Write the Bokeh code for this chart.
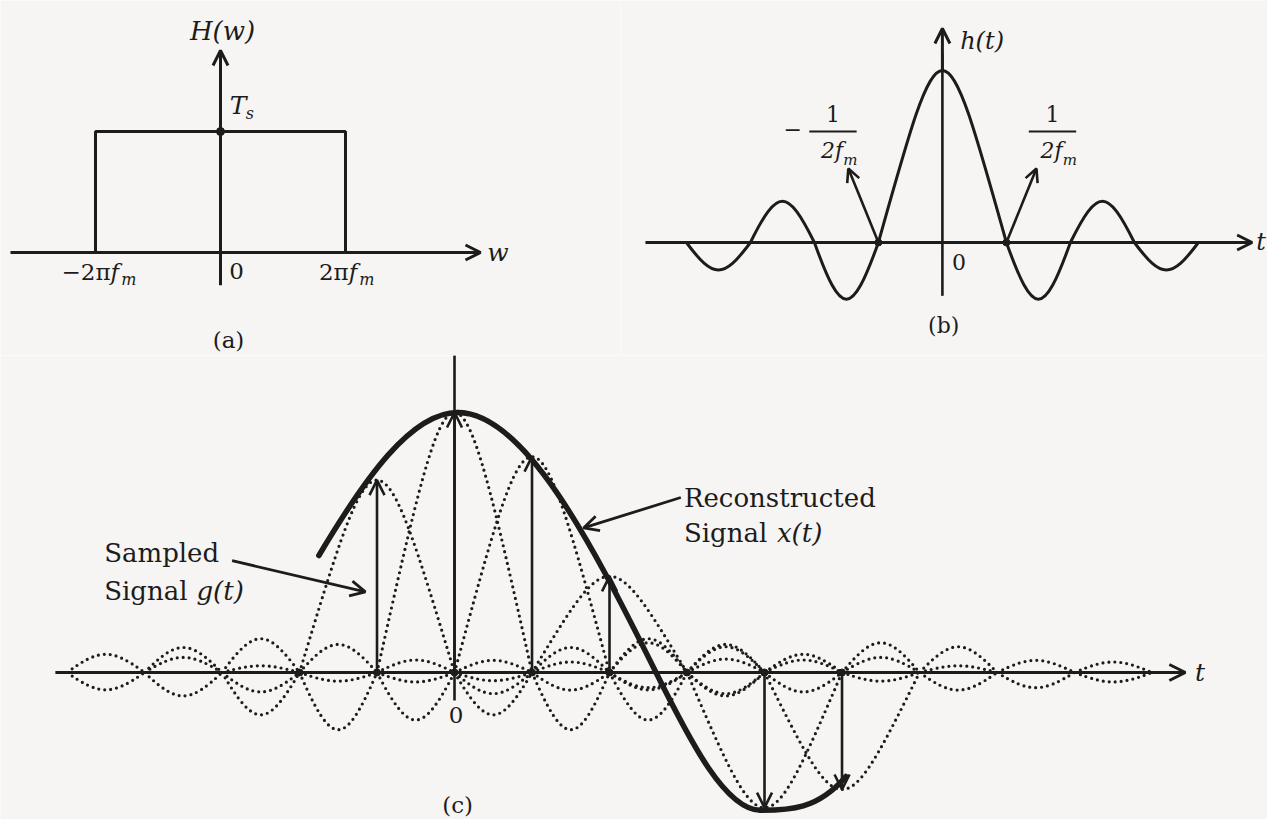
import numpy as np
from bokeh.plotting import figure
from bokeh.models import Range1d, Arrow, OpenHead, ColumnDataSource
from bokeh.layouts import column, row
from bokeh.core.properties import value
from bokeh.embed import file_html
from bokeh.resources import INLINE

PAPER = "#f6f5f3"
INK = "#1c1c1c"
SERIF = value("DejaVu Serif")

# ---------------- data ----------------
# (a) ideal low-pass filter: band edges in units of 2*pi*f_m, pass-band gain T_s
band_edges = [-1.0, 1.0]
passband_gain = 1.0

# (b) impulse response h(t): zero crossings in units of 1/(2 f_m) and the
#     height of the lobe between each pair of neighbouring zeros
h_zeros = [-4.0, -3.0, -2.0, -1.0, 1.0, 2.0, 3.0, 4.0]
h_lobe_heights = [-0.16, 0.24, -0.33, 1.0, -0.33, 0.24, -0.16]

# (c) samples g(nT_s) and the interpolating pulses built on them
sample_n = [-1, 0, 1, 2, 4, 5]
sample_g = [0.74, 1.0, 0.83, 0.37, -0.52, -0.45]
axis_points = [-2, -1, 0, 1, 2, 3, 4, 5]
side_lobe_ratio = [-0.22, 0.13, -0.09, 0.07]
pulse_span = (-5.3, 9.3)

# reconstructed x(t): anchor times, values and slopes along the curve
xt_t = [-1.75, 0.04, 2.6, 3.95, 5.05]
xt_v = [0.45, 1.0, 0.0, -0.53, -0.40]
xt_slope = [0.5, 0.0, -0.6, 0.0, 0.35]


def new_fig(w, h, xr, yr):
    p = figure(width=w, height=h, x_range=Range1d(*xr), y_range=Range1d(*yr),
               output_backend="svg", toolbar_location=None, tools="",
               x_axis_location=None, y_axis_location=None, min_border=0,
               background_fill_color=PAPER, border_fill_color=PAPER,
               outline_line_color=None)
    p.grid.visible = False
    return p


def lobe(x0, x1, amp, k):
    """Cubic Bezier control points for one half-wave between two zeros."""
    w = x1 - x0
    c = 4.0 / 3.0 * amp
    return dict(x0=x0, y0=0.0, x1=x1, y1=0.0,
                cx0=x0 + k * w, cy0=c, cx1=x1 - k * w, cy1=c)


def collect(items):
    keys = ["x0", "y0", "x1", "y1", "cx0", "cy0", "cx1", "cy1"]
    return ColumnDataSource({k: [it[k] for it in items] for k in keys})


def arrows(p, segs, size=13, width=2.4):
    x0, y0, x1, y1 = zip(*segs)
    src = ColumnDataSource(dict(x0=x0, y0=y0, x1=x1, y1=y1))
    p.add_layout(Arrow(end=OpenHead(size=size, line_width=width, line_color=INK),
                       x_start="x0", y_start="y0", x_end="x1", y_end="y1",
                       source=src, line_width=width, line_color=INK))


def label(p, x, y, txt, size, align="center", style="normal"):
    p.text(x=[x], y=[y], text=[txt], text_font=SERIF, text_font_size=f"{size}px",
           text_align=align, text_baseline="middle", text_color=INK,
           text_font_style=style)


# ---------------- (a) H(w) ----------------
pa = new_fig(620, 355, (-1.76, 3.2), (-0.851, 2.083))
lo, hi = band_edges
pa.multi_line(xs=[[lo, lo, hi, hi]], ys=[[0, passband_gain, passband_gain, 0]],
              line_color=INK, line_width=3)
pa.segment(x0=[0], y0=[-0.27], x1=[0], y1=[1.55], line_color=INK, line_width=3)
arrows(pa, [(0, 1.4, 0, 1.67), (-1.68, 0, 2.08, 0)], size=15, width=3)
pa.scatter([0], [passband_gain], size=8, color=INK)
label(pa, 0.016, 1.835, "H(w)", 26, style="italic")
label(pa, 0.14, 1.215, "T", 25, style="italic")
label(pa, 0.235, 1.15, "s", 16, style="italic")
label(pa, 2.22, 0.0, "w", 25, style="italic")
label(pa, 0.07, -0.15, "0", 23, align="left")
for edge, sign in ((hi, ""), (lo, "−")):
    xf = edge * 0.78 + (0.245 if edge > 0 else -0.1)
    label(pa, xf, -0.16, sign + "2π", 23, align="right")
    label(pa, xf, -0.16, "f", 23, align="left", style="italic")
    label(pa, xf + 0.085, -0.225, "m", 16, align="left", style="italic")
label(pa, 0.064, -0.727, "(a)", 23)

# ---------------- (b) h(t) ----------------
pb = new_fig(647, 355, (-5.03, 5.08), (-0.657, 1.407))
b_lobes = []
for z0, z1, amp in zip(h_zeros[:-1], h_zeros[1:], h_lobe_heights):
    k = 0.5 if abs(amp) >= 1.0 else 0.4244
    b_lobes.append(lobe(z0, z1, amp, k))
pb.bezier(x0="x0", y0="y0", x1="x1", y1="y1", cx0="cx0", cy0="cy0",
          cx1="cx1", cy1="cy1", source=collect(b_lobes), line_color=INK, line_width=3)
pb.segment(x0=[0], y0=[-0.31], x1=[0], y1=[1.1], line_color=INK, line_width=2.6)
arrows(pb, [(0, 1.0, 0, 1.244), (-4.64, 0, 4.84, 0)], size=15, width=3)
arrows(pb, [(-1, 0, -1.47, 0.43), (1, 0, 1.47, 0.43)], size=13, width=2.6)
pb.scatter([-1, 1], [0, 0], size=7, color=INK)
label(pb, 0.62, 1.17, "h(t)", 24, style="italic")
label(pb, 4.98, 0.0, "t", 24, style="italic")
label(pb, 0.26, -0.116, "0", 22)
label(pb, 0.02, -0.48, "(b)", 22)
for side in (-1, 1):
    cx = -1.71 if side < 0 else 1.72
    label(pb, cx, 0.75, "1", 22)
    pb.segment(x0=[cx - 0.37], y0=[0.645], x1=[cx + 0.37], y1=[0.645],
               line_color=INK, line_width=2)
    label(pb, cx + 0.16, 0.535, "2f", 22, align="right", style="italic")
    label(pb, cx + 0.16, 0.478, "m", 15, align="left", style="italic")
label(pb, -2.34, 0.66, "−", 22)

# ---------------- (c) reconstruction ----------------
pc = new_fig(1267, 464, (-5.858, 10.49), (-0.5654, 1.2192))
c_lobes = []
for n, g in zip(sample_n, sample_g):
    c_lobes.append(lobe(n - 1, n + 1, g, 0.5))
    for k, r in enumerate(side_lobe_ratio, start=1):
        for a, b in ((n + k, n + k + 1), (n - k - 1, n - k)):
            if a >= pulse_span[0] and b <= pulse_span[1]:
                c_lobes.append(lobe(a, b, g * r, 0.4244))
pc.bezier(x0="x0", y0="y0", x1="x1", y1="y1", cx0="cx0", cy0="cy0",
          cx1="cx1", cy1="cy1", source=collect(c_lobes), line_color=INK,
          line_width=3.2, line_dash="0 6", line_cap="round")

# smooth x(t) through its anchors (Hermite segments drawn as Bezier curves)
segs = dict(x0=[], y0=[], x1=[], y1=[], cx0=[], cy0=[], cx1=[], cy1=[])
for i in range(len(xt_t) - 1):
    t0, t1 = xt_t[i], xt_t[i + 1]
    h = t1 - t0
    segs["x0"].append(t0); segs["y0"].append(xt_v[i])
    segs["x1"].append(t1); segs["y1"].append(xt_v[i + 1])
    segs["cx0"].append(t0 + h / 3); segs["cy0"].append(xt_v[i] + xt_slope[i] * h / 3)
    segs["cx1"].append(t1 - h / 3); segs["cy1"].append(xt_v[i + 1] - xt_slope[i + 1] * h / 3)
pc.bezier(x0="x0", y0="y0", x1="x1", y1="y1", cx0="cx0", cy0="cy0",
          cx1="cx1", cy1="cy1", source=ColumnDataSource(segs), line_color=INK,
          line_width=5.5, line_cap="round")

pc.segment(x0=[0], y0=[-0.108], x1=[0], y1=[1.22], line_color=INK, line_width=2.6)
arrows(pc, [(-5.15, 0, 9.43, 0)], size=16, width=3)
arrows(pc, [(n, 0, n, g) for n, g in zip(sample_n, sample_g)], size=15, width=2.6)
pc.scatter(axis_points, [0] * len(axis_points), size=7, color=INK)

label(pc, 9.62, 0.0, "t", 25, style="italic")
label(pc, 0.02, -0.165, "0", 23)
label(pc, 0.04, -0.51, "(c)", 23)

label(pc, -4.52, 0.458, "Sampled", 26, align="left")
label(pc, -4.52, 0.315, "Signal", 26, align="left")
label(pc, -3.33, 0.315, "g(t)", 26, align="left", style="italic")
arrows(pc, [(-2.87, 0.43, -1.15, 0.31)], size=15, width=2.8)

label(pc, 2.96, 0.673, "Reconstructed", 26, align="left")
label(pc, 2.96, 0.538, "Signal", 26, align="left")
label(pc, 4.16, 0.538, "x(t)", 26, align="left", style="italic")
arrows(pc, [(2.92, 0.673, 1.665, 0.556)], size=15, width=2.8)

layout = column(row(pa, pb, spacing=0), pc, spacing=0)
open("out.html", "w").write(file_html(layout, INLINE))
